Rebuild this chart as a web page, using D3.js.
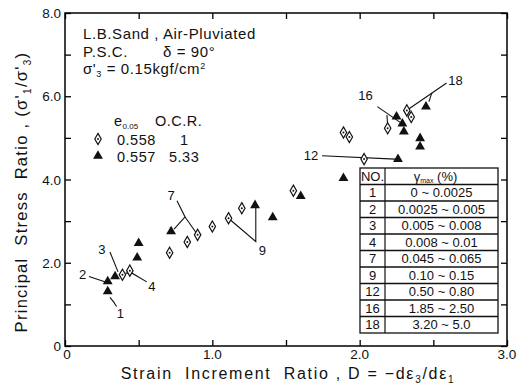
<!DOCTYPE html>
<html>
<head>
<meta charset="utf-8">
<script src="https://cdn.jsdelivr.net/npm/d3@7"></script>
<style>
  body { margin: 0; background: #fff; }
  svg { font-family: "Liberation Sans", Arial, sans-serif; }
  text { fill: #111; }
</style>
</head>
<body>
<div id="chart"></div>
<script>
// e0.05 = 0.558, OCR = 1 (open diamonds)
var ocr1 = [
  [0.39, 1.71], [0.44, 1.81], [0.71, 2.24], [0.83, 2.50], [0.90, 2.67],
  [1.00, 2.87], [1.11, 3.07], [1.20, 3.31], [1.55, 3.73], [1.89, 5.13],
  [1.93, 5.02], [2.03, 4.49], [2.19, 5.23], [2.32, 5.66], [2.35, 5.50]
];
// e0.05 = 0.557, OCR = 5.33 (filled triangles)
var ocr533 = [
  [0.29, 1.31], [0.29, 1.55], [0.34, 1.67], [0.49, 2.12], [0.50, 2.47],
  [0.72, 2.75], [1.29, 3.38], [1.41, 3.09], [1.60, 3.60], [1.89, 4.03],
  [2.26, 4.49], [2.25, 5.51], [2.29, 5.34], [2.30, 5.15], [2.41, 4.99],
  [2.41, 4.79], [2.45, 5.75]
];

// step numbers and leader lines (data units)
var tags = [
  {no: "1", at: [0.375, 0.78], lines: [[[0.35, 0.95], [0.33, 1.06], [0.305, 1.17]]]},
  {no: "2", at: [0.12, 1.71], lines: [[[0.163, 1.67], [0.275, 1.54]]]},
  {no: "3", at: [0.25, 2.33], lines: [[[0.305, 2.26], [0.36, 1.78]]]},
  {no: "4", at: [0.59, 1.43], lines: [[[0.555, 1.54], [0.455, 1.75], [0.41, 1.75]]]},
  {no: "7", at: [0.72, 3.61], lines: [[[0.76, 3.49], [0.815, 3.10], [0.74, 2.81]], [[0.815, 3.10], [0.89, 2.72]]]},
  {no: "9", at: [1.34, 2.30], lines: [[[1.295, 3.32], [1.295, 2.51], [1.125, 3.02]]]},
  {no: "12", at: [1.67, 4.57], lines: [[[1.745, 4.57], [2.24, 4.49]]]},
  {no: "16", at: [2.04, 6.01], lines: [[[2.12, 5.75], [2.28, 5.36]], [[2.185, 5.55], [2.19, 5.31]]]},
  {no: "18", at: [2.65, 6.39], lines: [[[2.59, 6.32], [2.335, 5.70]], [[2.49, 6.08], [2.47, 5.87]]]}
];

var tableNo = ["1", "2", "3", "4", "7", "9", "12", "16", "18"];
var tableGamma = ["0 ~ 0.0025", "0.0025 ~ 0.005", "0.005 ~ 0.008", "0.008 ~ 0.01",
  "0.045 ~ 0.065", "0.10 ~ 0.15", "0.50 ~ 0.80", "1.85 ~ 2.50", "3.20 ~ 5.0"];

var xTicks = [0, 1.0, 2.0, 3.0];
var yTicks = [0, 2.0, 4.0, 6.0, 8.0];

var width = 520, height = 385;
var svg = d3.select("#chart").append("svg")
  .attr("width", width).attr("height", height);

var x = d3.scaleLinear().domain([0, 3]).range([65, 507]);
var y = d3.scaleLinear().domain([0, 8]).range([346, 13]);

// frame with inward ticks on all sides
var g = svg.append("g");
g.append("rect")
  .attr("x", x(0)).attr("y", y(8))
  .attr("width", x(3) - x(0)).attr("height", y(0) - y(8))
  .attr("fill", "none").attr("stroke", "#111").attr("stroke-width", 1.6);

var fmt = function(d) { return d === 0 ? "0" : d3.format(".1f")(d); };
var tidy = function(s) { s.select(".domain").remove(); s.selectAll("line").attr("stroke-width", 1.3); };

g.append("g").attr("transform", "translate(0," + y(0) + ")")
  .call(d3.axisBottom(x).tickValues(d3.range(0, 3.01, 0.5)).tickSize(-6).tickFormat("")).call(tidy);
g.append("g").attr("transform", "translate(0," + y(8) + ")")
  .call(d3.axisTop(x).tickValues(d3.range(0, 3.01, 0.5)).tickSize(-6).tickFormat("")).call(tidy);
g.append("g").attr("transform", "translate(" + x(0) + ",0)")
  .call(d3.axisLeft(y).tickValues(d3.range(0, 8.01, 1)).tickSize(-6).tickFormat("")).call(tidy);
g.append("g").attr("transform", "translate(" + x(3) + ",0)")
  .call(d3.axisRight(y).tickValues(d3.range(0, 8.01, 1)).tickSize(-6).tickFormat("")).call(tidy);

// tick labels
g.selectAll(".xl").data(xTicks).enter().append("text")
  .attr("x", function(d) { return x(d) + (d === 0 ? 2 : 0); })
  .attr("y", y(0) + 13)
  .attr("text-anchor", "middle").attr("font-size", 13.5)
  .text(fmt);
g.selectAll(".yl").data(yTicks).enter().append("text")
  .attr("x", x(0) - 4)
  .attr("y", function(d) { return y(d) + 5; })
  .attr("text-anchor", "end").attr("font-size", 13.5)
  .text(fmt);

// axis titles
var xt = svg.append("text").attr("x", 288).attr("y", 379)
  .attr("text-anchor", "middle").attr("font-size", 16)
  .attr("letter-spacing", 1.7).style("white-space", "pre");
xt.append("tspan").text("Strain  Increment  Ratio , D = \u2212d\u03b5");
xt.append("tspan").attr("font-size", 10).attr("dy", 4).text("3");
xt.append("tspan").attr("dy", -4).text("/d\u03b5");
xt.append("tspan").attr("font-size", 10).attr("dy", 4).text("1");

var yt = svg.append("text")
  .attr("transform", "translate(27,192) rotate(-90)")
  .attr("text-anchor", "middle").attr("font-size", 16.5)
  .attr("letter-spacing", 1.3).style("white-space", "pre");
yt.append("tspan").text("Principal  Stress  Ratio , (\u03c3'");
yt.append("tspan").attr("font-size", 10).attr("dy", 4).text("1");
yt.append("tspan").attr("dy", -4).text("/\u03c3'");
yt.append("tspan").attr("font-size", 10).attr("dy", 4).text("3");
yt.append("tspan").attr("dy", -4).text(")");

// marks
var diamond = d3.symbol().type(d3.symbolDiamond).size(36);
var tri = d3.symbol().type(d3.symbolTriangle).size(42);

var lineGen = d3.line().x(function(d) { return x(d[0]); }).y(function(d) { return y(d[1]); });
tags.forEach(function(t) {
  t.lines.forEach(function(l) {
    svg.append("path").attr("d", lineGen(l))
      .attr("fill", "none").attr("stroke", "#111").attr("stroke-width", 1.1);
  });
  svg.append("text").attr("x", x(t.at[0])).attr("y", y(t.at[1]) + 4.5)
    .attr("text-anchor", "middle").attr("font-size", 13).text(t.no);
});

var dg = svg.append("g").selectAll("g").data(ocr1).enter().append("g")
  .attr("transform", function(d) { return "translate(" + x(d[0]) + "," + y(d[1]) + ")"; });
dg.append("path").attr("d", diamond).attr("fill", "#fff").attr("stroke", "#111").attr("stroke-width", 1.2);
dg.append("circle").attr("r", 1).attr("fill", "#111");

svg.append("g").selectAll("path").data(ocr533).enter().append("path")
  .attr("d", tri)
  .attr("transform", function(d) { return "translate(" + x(d[0]) + "," + y(d[1]) + ")"; })
  .attr("fill", "#111");

// annotation text
var note = svg.append("g").attr("font-size", 15).attr("letter-spacing", 0.6);
note.append("text").attr("x", 83).attr("y", 39).text("L.B.Sand , Air-Pluviated");
note.append("text").attr("x", 83).attr("y", 57).text("P.S.C.");
note.append("text").attr("x", 163).attr("y", 57).text("\u03b4 = 90\u00b0");
var s3 = note.append("text").attr("x", 83).attr("y", 74);
s3.append("tspan").text("\u03c3'");
s3.append("tspan").attr("font-size", 9).attr("dy", 3).text("3");
s3.append("tspan").attr("dy", -3).text(" = 0.15kgf/cm");
s3.append("tspan").attr("font-size", 9).attr("dy", -5).text("2");

// legend
var lg = svg.append("g").attr("font-size", 14.5).attr("letter-spacing", 0.5);
var eh = lg.append("text").attr("x", 114).attr("y", 126);
eh.append("tspan").text("e");
eh.append("tspan").attr("font-size", 8).attr("letter-spacing", 0).attr("dy", 3).text("0.05");
lg.append("text").attr("x", 155).attr("y", 126).text("O.C.R.");
var l1 = lg.append("g").attr("transform", "translate(98,139)");
l1.append("path").attr("d", diamond).attr("fill", "#fff").attr("stroke", "#111").attr("stroke-width", 1.2);
l1.append("circle").attr("r", 1).attr("fill", "#111");
lg.append("path").attr("d", tri).attr("transform", "translate(98,156)").attr("fill", "#111");
lg.append("text").attr("x", 117).attr("y", 145).text("0.558");
lg.append("text").attr("x", 180).attr("y", 145).text("1");
lg.append("text").attr("x", 117).attr("y", 162).text("0.557");
lg.append("text").attr("x", 169).attr("y", 162).text("5.33");

// table
var tx0 = 360, tx1 = 385, tx2 = 498, ty0 = 168, rh = 16.5;
var tb = svg.append("g").attr("font-size", 13);
tb.append("rect").attr("x", tx0).attr("y", ty0)
  .attr("width", tx2 - tx0).attr("height", rh * (tableNo.length + 1))
  .attr("fill", "#fff").attr("stroke", "#111").attr("stroke-width", 1.3);
tb.append("line").attr("x1", tx1).attr("x2", tx1).attr("y1", ty0).attr("y2", ty0 + rh * (tableNo.length + 1))
  .attr("stroke", "#111").attr("stroke-width", 1.2);
tb.selectAll(".rl").data(d3.range(1, tableNo.length + 1)).enter().append("line")
  .attr("x1", tx0).attr("x2", tx2)
  .attr("y1", function(i) { return ty0 + i * rh; }).attr("y2", function(i) { return ty0 + i * rh; })
  .attr("stroke", "#111").attr("stroke-width", 1.3);
tb.append("text").attr("x", (tx0 + tx1) / 2).attr("y", ty0 + 12.5).attr("text-anchor", "middle").text("NO.");
var gh = tb.append("text").attr("x", (tx1 + tx2) / 2 - 6).attr("y", ty0 + 12.5).attr("text-anchor", "middle");
gh.append("tspan").text("\u03b3");
gh.append("tspan").attr("font-size", 7).attr("dy", 2).text("max");
gh.append("tspan").attr("dy", -2).text(" (%)");
tb.selectAll(".no").data(tableNo).enter().append("text")
  .attr("x", (tx0 + tx1) / 2).attr("y", function(d, i) { return ty0 + (i + 1) * rh + 12.5; })
  .attr("text-anchor", "middle").text(function(d) { return d; });
tb.selectAll(".gm").data(tableGamma).enter().append("text")
  .attr("x", (tx1 + tx2) / 2).attr("y", function(d, i) { return ty0 + (i + 1) * rh + 12.5; })
  .attr("text-anchor", "middle").text(function(d) { return d; });
</script>
</body>
</html>
